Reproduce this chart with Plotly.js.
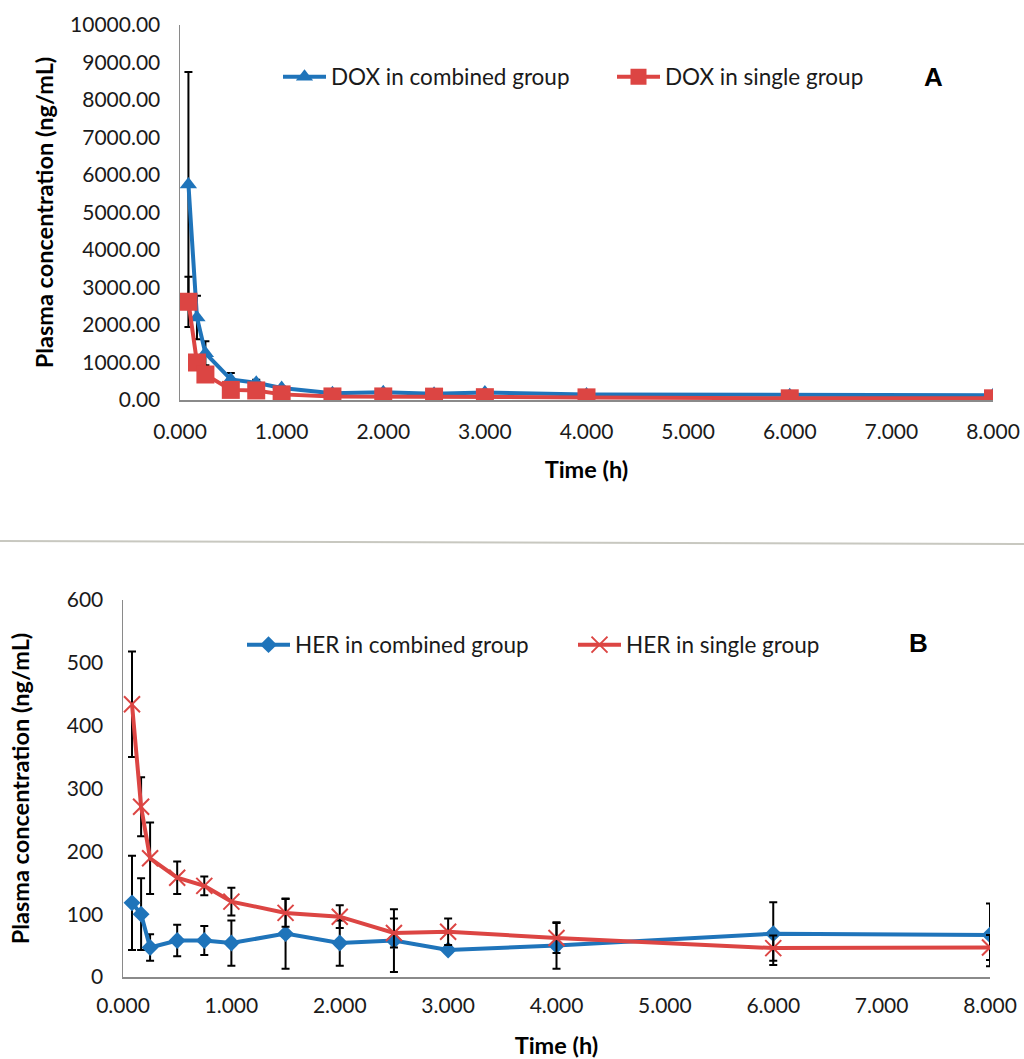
<!DOCTYPE html>
<html>
<head>
<meta charset="utf-8">
<script src="https://cdn.plot.ly/plotly-3.0.1.min.js"></script>
<style>
  html, body { margin: 0; padding: 0; background: #ffffff; }
  #chart { width: 1024px; height: 1059px; }
</style>
</head>
<body>
<div id="chart"></div>
<script>
// ---- Data ----
var timeH = [0.083, 0.167, 0.25, 0.5, 0.75, 1, 1.5, 2, 2.5, 3, 4, 6, 8];

// Panel A: DOX plasma concentration (ng/mL)
var doxCombined   = [5750, 2200, 1250, 550, 460, 320, 180, 210, 170, 200, 150, 130, 125];
var doxCombinedSD = [3000, 580, 320, 170, 80, 40, 30, 30, 25, 30, 20, 20, 20];
var doxSingle     = [2620, 1000, 680, 270, 255, 150, 95, 95, 90, 75, 70, 45, 45];
var doxSingleSD   = [670, 120, 60, 40, 30, 20, 15, 15, 15, 10, 10, 8, 8];

// Panel B: HER plasma concentration (ng/mL)
var herCombined   = [118, 100, 47, 58, 58, 54, 69, 54, 58, 43, 50, 69, 67];
var herCombinedSD = [75, 57, 21, 25, 23, 36, 56, 36, 50, 5, 37, 50, 50];
var herSingle     = [434, 271, 189, 158, 145, 120, 102, 96, 70, 72, 62, 46, 47];
var herSingleSD   = [84, 47, 57, 26, 15, 22, 22, 18, 23, 21, 24, 20, 20];

var seriesNames = ["DOX in combined group", "DOX in single group",
                   "HER in combined group", "HER in single group"];
var panelLabels = ["A", "B"];
var xTitle = "Time (h)";
var yTitle = "Plasma concentration (ng/mL)";

// ---- Styles ----
var BLUE = "#1f74ba";
var RED = "#dc4543";
var FONT = "Lato, 'Liberation Sans', sans-serif";

function err(arr) {
  return { type: "data", array: arr, visible: true, color: "#000000", thickness: 2, width: 4 };
}

var traces = [
  { x: timeH, y: doxCombined, name: seriesNames[0], type: "scatter", mode: "lines+markers",
    xaxis: "x", yaxis: "y", legend: "legend",
    line: { color: BLUE, width: 4 },
    marker: { symbol: "triangle-up", size: 15, color: BLUE },
    error_y: err(doxCombinedSD) },
  { x: timeH, y: doxSingle, name: seriesNames[1], type: "scatter", mode: "lines+markers",
    xaxis: "x", yaxis: "y", legend: "legend",
    line: { color: RED, width: 4 },
    marker: { symbol: "square", size: 18, color: RED },
    error_y: err(doxSingleSD) },
  { x: timeH, y: herCombined, name: seriesNames[2], type: "scatter", mode: "lines+markers",
    xaxis: "x2", yaxis: "y2", legend: "legend2",
    line: { color: BLUE, width: 4 },
    marker: { symbol: "diamond", size: 13, color: BLUE },
    error_y: err(herCombinedSD) },
  { x: timeH, y: herSingle, name: seriesNames[3], type: "scatter", mode: "lines+markers",
    xaxis: "x2", yaxis: "y2", legend: "legend2",
    line: { color: RED, width: 4 },
    marker: { symbol: "x-thin", size: 16, color: RED, line: { color: RED, width: 2 } },
    error_y: err(herSingleSD) }
];

var W = 1024, H = 1059;
function px(x) { return x / W; }
function py(y) { return 1 - y / H; }

var tickFont = { family: FONT, size: 21, color: "#1a1a1a" };
var titleFont = { family: FONT, size: 23.5, color: "#000000", weight: "bold" };

function xAxis(dom, anchor, standoff, lblOff) {
  return {
    domain: dom, anchor: anchor, range: [0, 8], dtick: 1, tick0: 0, tickformat: ".3f",
    showgrid: false, zeroline: false, showline: true, linecolor: "#8a8a8a", linewidth: 1.5,
    ticks: "", ticklabelstandoff: lblOff, tickfont: tickFont, fixedrange: true,
    title: { text: xTitle, font: titleFont, standoff: standoff }
  };
}
function yAxis(dom, anchor, range, dtick, fmt, standoff) {
  return {
    domain: dom, anchor: anchor, range: range, dtick: dtick, tick0: 0, tickformat: fmt,
    showgrid: false, zeroline: false, showline: true, linecolor: "#8a8a8a", linewidth: 1.5,
    ticks: "", ticklabelstandoff: 14, tickfont: tickFont, fixedrange: true,
    title: { text: yTitle, font: titleFont, standoff: standoff }
  };
}

var legendFont = { family: FONT, size: 22.5, color: "#1a1a1a" };

var layout = {
  width: W, height: H,
  margin: { l: 0, r: 0, t: 0, b: 0 },
  paper_bgcolor: "#ffffff", plot_bgcolor: "#ffffff",
  font: { family: FONT },
  xaxis: xAxis([px(180), px(993)], "y", 20, 12),
  yaxis: yAxis([py(400), py(25)], "x", [0, 10000], 1000, ".2f", 10),
  xaxis2: xAxis([px(123), px(990)], "y2", 27, 9),
  yaxis2: yAxis([py(977), py(600)], "x2", [0, 600], 100, "d", 30),
  legend: { orientation: "h", x: px(278), y: py(77), xanchor: "left", yanchor: "middle",
            font: legendFont, bgcolor: "rgba(0,0,0,0)", itemwidth: 43,
            entrywidth: 276, entrywidthmode: "pixels" },
  legend2: { orientation: "h", x: px(242), y: py(645), xanchor: "left", yanchor: "middle",
             font: legendFont, bgcolor: "rgba(0,0,0,0)", itemwidth: 43,
             entrywidth: 273, entrywidthmode: "pixels" },
  annotations: [
    { text: "<b>" + panelLabels[0] + "</b>", xref: "paper", yref: "paper", x: px(933), y: py(77),
      xanchor: "center", yanchor: "middle", showarrow: false,
      font: { family: "'Liberation Sans', Arial, sans-serif", size: 26, color: "#000000" } },
    { text: "<b>" + panelLabels[1] + "</b>", xref: "paper", yref: "paper", x: px(918), y: py(643),
      xanchor: "center", yanchor: "middle", showarrow: false,
      font: { family: "'Liberation Sans', Arial, sans-serif", size: 26, color: "#000000" } }
  ],
  shapes: [
    { type: "line", xref: "paper", yref: "paper", x0: 0, x1: 1, y0: py(541), y1: py(544),
      line: { color: "#c8c8c0", width: 2 } }
  ],
  showlegend: true
};

Plotly.newPlot("chart", traces, layout, { displayModeBar: false, staticPlot: true });
</script>
</body>
</html>
